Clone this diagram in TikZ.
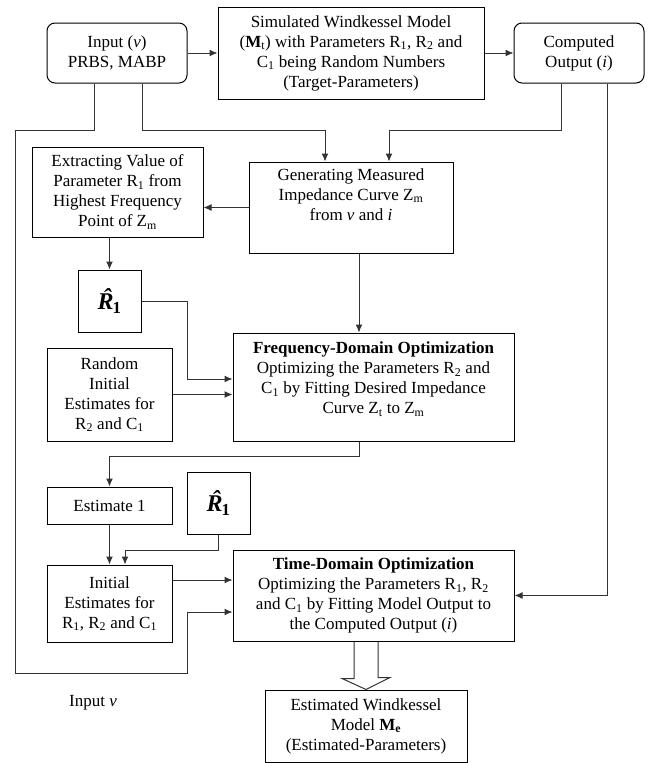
\documentclass[tikz,border=0pt]{standalone}
\usepackage{fontspec}
\setmainfont{Liberation Serif}
\usepackage{tikz}
\usetikzlibrary{arrows.meta}
\usetikzlibrary{calc}
\newcommand{\rhat}{{\fontsize{24}{24}\selectfont\bfseries\itshape\accent"02C6 R\kern-1pt\textsubscript{\upshape 1}}}

\begin{document}
\begin{tikzpicture}[x=1pt,y=-1pt,>={Latex[length=8pt,width=7pt]}]
  \tikzstyle{every node}=[font=\fontsize{17}{20}\selectfont, align=center, inner sep=0pt]
  \tikzstyle{box}=[draw, line width=1pt]
  \tikzstyle{rbox}=[box, rounded corners=8pt]
  \tikzstyle{wire}=[line width=1pt, black!80]
  \useasboundingbox (0,0) rectangle (654,763);

  % boxes
  \node[rbox, minimum width=140pt, minimum height=60pt] (inp)  at (117,53)    {Input (\textit{v})\\PRBS, MABP};
  \node[box,  minimum width=266pt, minimum height=92pt] (sim)  at (351,53)    {Simulated Windkessel Model\\(\textbf{M}\textsubscript{t}) with Parameters R\textsubscript{1}, R\textsubscript{2} and\\C\textsubscript{1} being Random Numbers\\(Target-Parameters)};
  \node[rbox, minimum width=130pt, minimum height=60pt] (comp) at (579,53)    {Computed\\Output (\textit{i})};
  \node[box,  minimum width=171pt, minimum height=90pt] (ext)  at (117.5,192) {Extracting Value of\\Parameter R\textsubscript{1} from\\Highest Frequency\\Point of Z\textsubscript{m}};
  \node[box,  minimum width=204pt, minimum height=91pt] (gen)  at (351,207.5) {Generating Measured\\Impedance Curve Z\textsubscript{m}\\from \textit{v} and \textit{i}\\ \strut};
  \node[box,  minimum width=63pt,  minimum height=62pt] (rone) at (109.5,301) {\rhat};
  \node[box,  minimum width=125pt, minimum height=93pt] (rand) at (109.5,394.5) {Random\\Initial\\Estimates for\\R\textsubscript{2} and C\textsubscript{1}};
  \node[box,  minimum width=281pt, minimum height=108pt] (freq) at (373.5,387) {\textbf{Frequency-Domain Optimization}\\Optimizing the Parameters R\textsubscript{2} and\\C\textsubscript{1} by Fitting Desired Impedance\\Curve Z\textsubscript{t} to Z\textsubscript{m}\\[-8pt] \strut};
  \node[box,  minimum width=125pt, minimum height=37pt] (est)  at (109.5,505.5) {Estimate 1};
  \node[box,  minimum width=63pt,  minimum height=62pt] (rtwo) at (218.5,503) {\rhat};
  \node[box,  minimum width=125pt, minimum height=77pt] (init) at (109.5,603.5) {Initial\\Estimates for\\R\textsubscript{1}, R\textsubscript{2} and C\textsubscript{1}};
  \node[box,  minimum width=281pt, minimum height=91pt] (td)   at (373.5,595.5) {\textbf{Time-Domain Optimization}\\Optimizing the Parameters R\textsubscript{1}, R\textsubscript{2}\\and C\textsubscript{1} by Fitting Model Output to\\the Computed Output (\textit{i})};
  \node[box,  minimum width=202pt, minimum height=72pt] (estm) at (366,726)   {Estimated Windkessel\\Model \textbf{M\textsubscript{e}}\\(Estimated-Parameters)};
  \node (lbl) at (93,703) {Input \textit{v}};

  % connectors
  \coordinate (lft) at (15,130);
  \coordinate (bot) at (187,673);
  \coordinate (g) at ([xshift=8pt]gen.south);
  \coordinate (f) at ([xshift=-14.5pt]freq.south);
  \coordinate (ie) at ([yshift=23.5pt]init.east);

  \draw[wire,->] (inp) -- (sim);
  \draw[wire,->] (sim) -- (comp);
  \draw[wire,->] ([xshift=25pt]inp.south) -- ++(0,47) -| ([xshift=-26pt]gen.north);
  \draw[wire,->] ([xshift=-18pt]comp.south) -- ++(0,47) -| ([xshift=38pt]gen.north);
  \draw[wire,->] ([xshift=-23pt]inp.south) |- (lft) |- (bot) |- ([yshift=-16.5pt]td.west);
  \draw[wire,->] ([xshift=28pt]comp.south) |- (td.east);
  \draw[wire,->] (gen.west) -- (gen.west -| ext.east);
  \draw[wire,->] (ext.south -| rone.north) -- (rone.north);
  \draw[wire,->] (rone.east) -- ++(46,0) |- ([yshift=8pt]freq.west);
  \draw[wire,->] (rand.east) -- (rand.east -| freq.west);
  \draw[wire,->] (g) -- (g |- freq.north);
  \draw[wire,->] (f) -- ++(0,15) -| (est.north);
  \draw[wire,->] (est) -- (init);
  \draw[wire,->] (rtwo.south) -- ++(0,16) -| ([xshift=15.5pt]init.north);
  \draw[wire,->] (ie) -- (ie -| td.west);
  \draw[wire] ($(td.south -| estm.north)+(-12,0)$) -- ++(0,37) -- ++(-12,0) -- (estm.north)
    -- ++(24,-12) -- ++(-12,0) -- ($(td.south -| estm.north)+(12,0)$);
\end{tikzpicture}
\end{document}
